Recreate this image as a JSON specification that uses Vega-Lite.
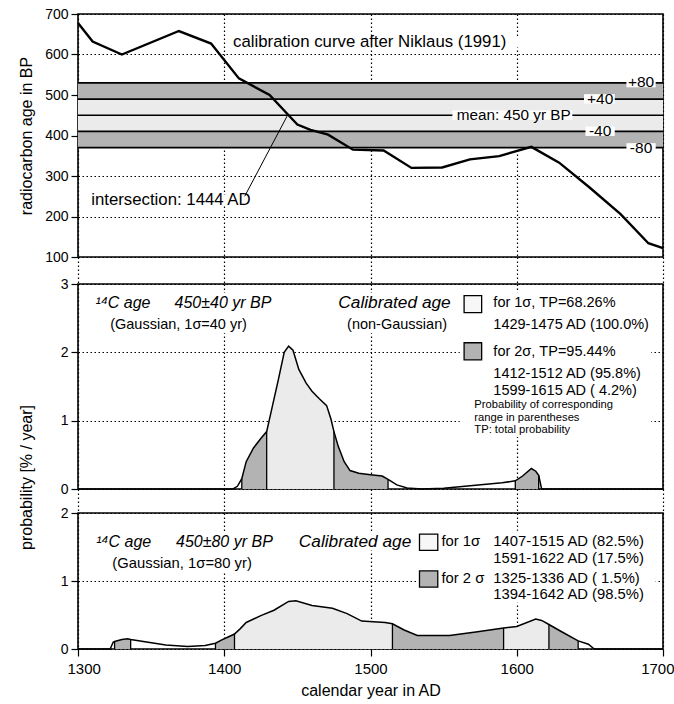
{
  "$schema": "https://vega.github.io/schema/vega-lite/v6.json",
  "background": "white",
  "padding": {"left": 17, "top": 6, "right": 0, "bottom": 5},
  "bounds": "flush",
  "spacing": 27,
  "config": {
    "font": "Liberation Sans",
    "view": {"stroke": "black", "strokeWidth": 1.6},
    "axis": {
      "labelFont": "Liberation Sans", "labelFontSize": 14, "labelColor": "black",
      "titleFont": "Liberation Sans", "titleFontSize": 16, "titleFontWeight": "normal", "titleColor": "black",
      "tickColor": "black", "tickWidth": 1.2, "tickSize": 7, "labelPadding": 3, "domain": false,
      "labelFlush": false, "labelOverlap": false,
      "gridColor": "black", "gridDash": [1.5, 2.5], "gridOpacity": 1, "gridWidth": 1.2
    },
    "text": {"font": "Liberation Sans", "fontSize": 15, "baseline": "middle", "align": "left", "color": "black"}
  },
  "datasets": {
    "bands": [
      {"lo": 490, "hi": 530, "kind": "2s"},
      {"lo": 410, "hi": 490, "kind": "1s"},
      {"lo": 370, "hi": 410, "kind": "2s"}
    ],
    "levels": [{"y": 370}, {"y": 410}, {"y": 450}, {"y": 490}, {"y": 530}],
    "calib": [
      {"x": 1300, "y": 678}, {"x": 1310, "y": 632}, {"x": 1330, "y": 600}, {"x": 1369, "y": 658},
      {"x": 1391, "y": 627}, {"x": 1410, "y": 541}, {"x": 1431, "y": 500}, {"x": 1444, "y": 450},
      {"x": 1450, "y": 427}, {"x": 1459, "y": 414}, {"x": 1471, "y": 402}, {"x": 1488, "y": 365},
      {"x": 1509, "y": 363}, {"x": 1528, "y": 320}, {"x": 1549, "y": 321}, {"x": 1568, "y": 341},
      {"x": 1588, "y": 349}, {"x": 1610, "y": 372}, {"x": 1629, "y": 333}, {"x": 1650, "y": 271},
      {"x": 1671, "y": 206}, {"x": 1690, "y": 134}, {"x": 1700, "y": 122}
    ],
    "top_boxes": [
      {"x": 1404, "x2": 1617, "y": 617, "y2": 645},
      {"x": 1306, "x2": 1415, "y": 226, "y2": 254},
      {"x": 1675, "x2": 1695, "y": 519, "y2": 542},
      {"x": 1646, "x2": 1667, "y": 479, "y2": 502},
      {"x": 1556, "x2": 1638, "y": 439, "y2": 462},
      {"x": 1647, "x2": 1667, "y": 399, "y2": 422},
      {"x": 1675, "x2": 1695, "y": 358, "y2": 381}
    ],
    "leader": [{"x": 1414, "y": 250, "x2": 1443, "y2": 448}],
    "top_center_labels": [
      {"x": 1685, "y": 531, "label": "+80"},
      {"x": 1657, "y": 491, "label": "+40"},
      {"x": 1657, "y": 411, "label": "-40"},
      {"x": 1685, "y": 370, "label": "-80"}
    ],
    "top_big_labels": [
      {"x": 1406, "y": 631, "label": "calibration curve after Niklaus (1991)"},
      {"x": 1309, "y": 240, "label": "intersection: 1444 AD"}
    ],
    "top_mean_label": [
      {"x": 1559, "y": 451, "label": "mean: 450 yr BP"}
    ],
    "mid": [
      {"x": 1300, "y": 0}, {"x": 1400, "y": 0}, {"x": 1406, "y": 0}, {"x": 1409, "y": 0.04},
      {"x": 1412, "y": 0.15}, {"x": 1415, "y": 0.4}, {"x": 1420, "y": 0.6}, {"x": 1425, "y": 0.74},
      {"x": 1429, "y": 0.84}, {"x": 1433, "y": 1.22}, {"x": 1437, "y": 1.6}, {"x": 1441, "y": 2.0},
      {"x": 1444, "y": 2.09}, {"x": 1447, "y": 2.03}, {"x": 1451, "y": 1.75}, {"x": 1456, "y": 1.55},
      {"x": 1460, "y": 1.43}, {"x": 1465, "y": 1.32}, {"x": 1470, "y": 1.22}, {"x": 1473, "y": 1.02},
      {"x": 1475, "y": 0.84}, {"x": 1478, "y": 0.62}, {"x": 1482, "y": 0.4}, {"x": 1486, "y": 0.27},
      {"x": 1492, "y": 0.23}, {"x": 1500, "y": 0.21}, {"x": 1508, "y": 0.19}, {"x": 1512, "y": 0.14},
      {"x": 1518, "y": 0.06}, {"x": 1525, "y": 0.015}, {"x": 1535, "y": 0}, {"x": 1550, "y": 0.01},
      {"x": 1570, "y": 0.05}, {"x": 1590, "y": 0.09}, {"x": 1599, "y": 0.12}, {"x": 1604, "y": 0.19},
      {"x": 1610, "y": 0.3}, {"x": 1613, "y": 0.26}, {"x": 1615, "y": 0.2}, {"x": 1617, "y": 0},
      {"x": 1700, "y": 0}
    ],
    "mid_bounds": [
      {"x": 1412, "y": 0.15}, {"x": 1429, "y": 0.84}, {"x": 1475, "y": 0.84},
      {"x": 1512, "y": 0.14}, {"x": 1599, "y": 0.12}, {"x": 1615, "y": 0.2}
    ],
    "mid_boxes": [
      {"x": 1309, "x2": 1436, "y": 2.28, "y2": 2.87},
      {"x": 1474, "x2": 1560, "y": 2.28, "y2": 2.87},
      {"x": 1561, "x2": 1692, "y": 0.76, "y2": 2.88}
    ],
    "mid_italic": [
      {"x": 1312, "y": 2.72, "label": "¹⁴C age"},
      {"x": 1366, "y": 2.72, "label": "450±40 yr BP"}
    ],
    "mid_cal": [
      {"x": 1478, "y": 2.72, "label": "Calibrated age"}
    ],
    "mid_normal": [
      {"x": 1322, "y": 2.4, "label": "(Gaussian, 1σ=40 yr)"},
      {"x": 1484, "y": 2.4, "label": "(non-Gaussian)"},
      {"x": 1584, "y": 2.72, "label": "for 1σ, TP=68.26%"},
      {"x": 1584, "y": 2.4, "label": "1429-1475 AD (100.0%)"},
      {"x": 1584, "y": 2.01, "label": "for 2σ, TP=95.44%"},
      {"x": 1584, "y": 1.69, "label": "1412-1512 AD (95.8%)"},
      {"x": 1584, "y": 1.43, "label": "1599-1615 AD ( 4.2%)"}
    ],
    "mid_small": [
      {"x": 1571, "y": 1.23, "label": "Probability of corresponding"},
      {"x": 1571, "y": 1.045, "label": "range in parentheses"},
      {"x": 1571, "y": 0.86, "label": "TP: total probability"}
    ],
    "mid_key": [
      {"x": 1564, "x2": 1576, "y": 2.58, "y2": 2.83, "kind": "1s"},
      {"x": 1564, "x2": 1576, "y": 1.89, "y2": 2.14, "kind": "2s"}
    ],
    "bot": [
      {"x": 1300, "y": 0}, {"x": 1322, "y": 0}, {"x": 1324, "y": 0.1}, {"x": 1325, "y": 0.11},
      {"x": 1330, "y": 0.14}, {"x": 1334, "y": 0.15}, {"x": 1336, "y": 0.14}, {"x": 1348, "y": 0.1},
      {"x": 1360, "y": 0.06}, {"x": 1375, "y": 0.035}, {"x": 1387, "y": 0.05}, {"x": 1394, "y": 0.085},
      {"x": 1398, "y": 0.13}, {"x": 1403, "y": 0.18}, {"x": 1407, "y": 0.22}, {"x": 1411, "y": 0.3},
      {"x": 1415, "y": 0.39}, {"x": 1425, "y": 0.49}, {"x": 1434, "y": 0.57}, {"x": 1444, "y": 0.7},
      {"x": 1449, "y": 0.71}, {"x": 1460, "y": 0.64}, {"x": 1474, "y": 0.6}, {"x": 1484, "y": 0.52},
      {"x": 1494, "y": 0.41}, {"x": 1502, "y": 0.4}, {"x": 1510, "y": 0.39}, {"x": 1515, "y": 0.37},
      {"x": 1523, "y": 0.28}, {"x": 1532, "y": 0.2}, {"x": 1554, "y": 0.2}, {"x": 1572, "y": 0.25},
      {"x": 1591, "y": 0.31}, {"x": 1600, "y": 0.33}, {"x": 1613, "y": 0.44}, {"x": 1617, "y": 0.42},
      {"x": 1622, "y": 0.36}, {"x": 1631, "y": 0.25}, {"x": 1642, "y": 0.12}, {"x": 1649, "y": 0.07},
      {"x": 1653, "y": 0}, {"x": 1700, "y": 0}
    ],
    "bot_bounds": [
      {"x": 1325, "y": 0.11}, {"x": 1336, "y": 0.14}, {"x": 1394, "y": 0.085}, {"x": 1407, "y": 0.22},
      {"x": 1515, "y": 0.37}, {"x": 1591, "y": 0.31}, {"x": 1622, "y": 0.36}, {"x": 1642, "y": 0.12}
    ],
    "bot_boxes": [
      {"x": 1310, "x2": 1437, "y": 1.12, "y2": 1.72},
      {"x": 1449, "x2": 1531, "y": 1.45, "y2": 1.72},
      {"x": 1532, "x2": 1695, "y": 0.68, "y2": 1.74}
    ],
    "bot_italic": [
      {"x": 1312.5, "y": 1.57, "label": "¹⁴C age"},
      {"x": 1367, "y": 1.57, "label": "450±80 yr BP"}
    ],
    "bot_cal": [
      {"x": 1451, "y": 1.57, "label": "Calibrated age"}
    ],
    "bot_normal": [
      {"x": 1323.5, "y": 1.25, "label": "(Gaussian, 1σ=80 yr)"},
      {"x": 1548.5, "y": 1.57, "label": "for 1σ"},
      {"x": 1584, "y": 1.57, "label": "1407-1515 AD (82.5%)"},
      {"x": 1584, "y": 1.33, "label": "1591-1622 AD (17.5%)"},
      {"x": 1548.5, "y": 1.03, "label": "for 2 σ"},
      {"x": 1584, "y": 1.03, "label": "1325-1336 AD ( 1.5%)"},
      {"x": 1584, "y": 0.79, "label": "1394-1642 AD (98.5%)"}
    ],
    "bot_key": [
      {"x": 1533.5, "x2": 1546, "y": 1.45, "y2": 1.69, "kind": "1s"},
      {"x": 1533.5, "x2": 1546, "y": 0.91, "y2": 1.15, "kind": "2s"}
    ]
  },
  "vconcat": [
    {
      "width": 585,
      "height": 243,
      "layer": [
        {
          "data": {"name": "bands"},
          "transform": [{"filter": "datum.kind === '2s'"}],
          "mark": {"type": "rect", "fill": "#b3b3b3"},
          "encoding": {
            "x": {"datum": 1300, "type": "quantitative",
                  "scale": {"domain": [1300, 1700], "nice": false, "zero": false},
                  "axis": {"title": null, "labels": false, "grid": true, "values": [1300, 1400, 1500, 1600, 1700],
                           "tickSize": 27, "tickDash": [1.5, 2.5], "tickWidth": 1.2}},
            "x2": {"datum": 1700},
            "y": {"field": "lo", "type": "quantitative",
                  "scale": {"domain": [100, 700], "nice": false, "zero": false},
                  "axis": {"title": "radiocarbon age in BP", "values": [100, 200, 300, 400, 500, 600, 700],
                           "format": "d", "grid": true, "titleX": -44}},
            "y2": {"field": "hi"}
          }
        },
        {
          "data": {"name": "bands"},
          "transform": [{"filter": "datum.kind === '1s'"}],
          "mark": {"type": "rect", "fill": "#ebebeb"},
          "encoding": {
            "x": {"datum": 1300, "type": "quantitative"},
            "x2": {"datum": 1700},
            "y": {"field": "lo", "type": "quantitative"},
            "y2": {"field": "hi"}
          }
        },
        {
          "data": {"name": "levels"},
          "mark": {"type": "rule", "color": "black", "strokeWidth": 1.7},
          "encoding": {"y": {"field": "y", "type": "quantitative"}}
        },
        {
          "data": {"name": "top_boxes"},
          "mark": {"type": "rect", "fill": "white"},
          "encoding": {
            "x": {"field": "x", "type": "quantitative"}, "x2": {"field": "x2"},
            "y": {"field": "y", "type": "quantitative"}, "y2": {"field": "y2"}
          }
        },
        {
          "data": {"name": "calib"},
          "mark": {"type": "line", "color": "black", "strokeWidth": 2.4},
          "encoding": {
            "x": {"field": "x", "type": "quantitative"},
            "y": {"field": "y", "type": "quantitative"}
          }
        },
        {
          "data": {"name": "leader"},
          "mark": {"type": "rule", "color": "black", "strokeWidth": 1},
          "encoding": {
            "x": {"field": "x", "type": "quantitative"}, "x2": {"field": "x2"},
            "y": {"field": "y", "type": "quantitative"}, "y2": {"field": "y2"}
          }
        },
        {
          "data": {"name": "top_center_labels"},
          "mark": {"type": "text", "align": "center", "fontSize": 15.5},
          "encoding": {
            "x": {"field": "x", "type": "quantitative"},
            "y": {"field": "y", "type": "quantitative"},
            "text": {"field": "label"}
          }
        },
        {
          "data": {"name": "top_big_labels"},
          "mark": {"type": "text", "align": "left", "fontSize": 16.8},
          "encoding": {
            "x": {"field": "x", "type": "quantitative"},
            "y": {"field": "y", "type": "quantitative"},
            "text": {"field": "label"}
          }
        },
        {
          "data": {"name": "top_mean_label"},
          "mark": {"type": "text", "align": "left", "fontSize": 15.3},
          "encoding": {
            "x": {"field": "x", "type": "quantitative"},
            "y": {"field": "y", "type": "quantitative"},
            "text": {"field": "label"}
          }
        }
      ]
    },
    {
      "spacing": 24,
      "bounds": "flush",
      "vconcat": [
        {
          "width": 585,
          "height": 205,
          "layer": [
            {
              "data": {"name": "mid_boxes"},
              "mark": {"type": "rect", "fill": "white"},
              "encoding": {
                "x": {"field": "x", "type": "quantitative",
                      "scale": {"domain": [1300, 1700], "nice": false, "zero": false},
                      "axis": {"title": null, "labels": false, "grid": true, "values": [1300, 1400, 1500, 1600, 1700],
                               "tickSize": 24, "tickDash": [1.5, 2.5], "tickWidth": 1.2}},
                "x2": {"field": "x2"},
                "y": {"field": "y", "type": "quantitative",
                      "scale": {"domain": [0, 3], "nice": false, "zero": false},
                      "axis": {"title": "probability [% / year]", "values": [0, 1, 2, 3], "format": "d", "grid": true,
                               "titleX": -44, "titleY": 193, "titleAlign": "center"}},
                "y2": {"field": "y2"}
              }
            },
            {
              "data": {"name": "mid"},
              "transform": [{"filter": "datum.x >= 1412 && datum.x <= 1429"}],
              "mark": {"type": "area", "fill": "#b3b3b3"},
              "encoding": {"x": {"field": "x", "type": "quantitative"}, "y": {"field": "y", "type": "quantitative"}, "y2": {"datum": 0}}
            },
            {
              "data": {"name": "mid"},
              "transform": [{"filter": "datum.x >= 1429 && datum.x <= 1475"}],
              "mark": {"type": "area", "fill": "#ebebeb"},
              "encoding": {"x": {"field": "x", "type": "quantitative"}, "y": {"field": "y", "type": "quantitative"}, "y2": {"datum": 0}}
            },
            {
              "data": {"name": "mid"},
              "transform": [{"filter": "datum.x >= 1475 && datum.x <= 1512"}],
              "mark": {"type": "area", "fill": "#b3b3b3"},
              "encoding": {"x": {"field": "x", "type": "quantitative"}, "y": {"field": "y", "type": "quantitative"}, "y2": {"datum": 0}}
            },
            {
              "data": {"name": "mid"},
              "transform": [{"filter": "datum.x >= 1599 && datum.x <= 1615"}],
              "mark": {"type": "area", "fill": "#b3b3b3"},
              "encoding": {"x": {"field": "x", "type": "quantitative"}, "y": {"field": "y", "type": "quantitative"}, "y2": {"datum": 0}}
            },
            {
              "data": {"name": "mid"},
              "mark": {"type": "line", "color": "black", "strokeWidth": 1.5},
              "encoding": {"x": {"field": "x", "type": "quantitative"}, "y": {"field": "y", "type": "quantitative"}}
            },
            {
              "data": {"name": "mid_bounds"},
              "mark": {"type": "rule", "color": "black", "strokeWidth": 1.3},
              "encoding": {"x": {"field": "x", "type": "quantitative"}, "y": {"field": "y", "type": "quantitative"}, "y2": {"datum": 0}}
            },
            {
              "data": {"name": "mid_key"},
              "transform": [{"filter": "datum.kind === '1s'"}],
              "mark": {"type": "rect", "fill": "#f7f7f7", "stroke": "black", "strokeWidth": 1.3},
              "encoding": {"x": {"field": "x", "type": "quantitative"}, "x2": {"field": "x2"}, "y": {"field": "y", "type": "quantitative"}, "y2": {"field": "y2"}}
            },
            {
              "data": {"name": "mid_key"},
              "transform": [{"filter": "datum.kind === '2s'"}],
              "mark": {"type": "rect", "fill": "#b3b3b3", "stroke": "black", "strokeWidth": 1.3},
              "encoding": {"x": {"field": "x", "type": "quantitative"}, "x2": {"field": "x2"}, "y": {"field": "y", "type": "quantitative"}, "y2": {"field": "y2"}}
            },
            {
              "data": {"name": "mid_italic"},
              "mark": {"type": "text", "fontSize": 16, "fontStyle": "italic"},
              "encoding": {"x": {"field": "x", "type": "quantitative"}, "y": {"field": "y", "type": "quantitative"}, "text": {"field": "label"}}
            },
            {
              "data": {"name": "mid_cal"},
              "mark": {"type": "text", "fontSize": 17.3, "fontStyle": "italic"},
              "encoding": {"x": {"field": "x", "type": "quantitative"}, "y": {"field": "y", "type": "quantitative"}, "text": {"field": "label"}}
            },
            {
              "data": {"name": "mid_normal"},
              "mark": {"type": "text", "fontSize": 14.5},
              "encoding": {"x": {"field": "x", "type": "quantitative"}, "y": {"field": "y", "type": "quantitative"}, "text": {"field": "label"}}
            },
            {
              "data": {"name": "mid_small"},
              "mark": {"type": "text", "fontSize": 11.2},
              "encoding": {"x": {"field": "x", "type": "quantitative"}, "y": {"field": "y", "type": "quantitative"}, "text": {"field": "label"}}
            }
          ]
        },
        {
          "width": 585,
          "height": 136,
          "layer": [
            {
              "data": {"name": "bot"},
              "mark": {"type": "line", "color": "black", "strokeWidth": 1.5, "opacity": 0},
              "encoding": {
                "x": {"field": "x", "type": "quantitative",
                      "scale": {"domain": [1300, 1700], "nice": false, "zero": false},
                      "axis": {"title": "calendar year in AD", "values": [1300, 1400, 1500, 1600, 1700], "format": ".0f", "grid": true,
                               "tickSize": 7, "labelPadding": 5, "labelFontSize": 15, "titlePadding": 6,
                               "labelFlush": true, "labelFlushOffset": 11}},
                "y": {"field": "y", "type": "quantitative",
                      "scale": {"domain": [0, 2], "nice": false, "zero": false},
                      "axis": {"title": null, "values": [0, 1, 2], "format": ".0f", "grid": true, "labelOverlap": false}}
              }
            },
            {
              "data": {"name": "bot_boxes"},
              "mark": {"type": "rect", "fill": "white"},
              "encoding": {
                "x": {"field": "x", "type": "quantitative"},
                "x2": {"field": "x2"},
                "y": {"field": "y", "type": "quantitative"},
                "y2": {"field": "y2"}
              }
            },
            {
              "data": {"name": "bot"},
              "transform": [{"filter": "datum.x >= 1325 && datum.x <= 1336"}],
              "mark": {"type": "area", "fill": "#b3b3b3"},
              "encoding": {"x": {"field": "x", "type": "quantitative"}, "y": {"field": "y", "type": "quantitative"}, "y2": {"datum": 0}}
            },
            {
              "data": {"name": "bot"},
              "transform": [{"filter": "datum.x >= 1394 && datum.x <= 1407"}],
              "mark": {"type": "area", "fill": "#b3b3b3"},
              "encoding": {"x": {"field": "x", "type": "quantitative"}, "y": {"field": "y", "type": "quantitative"}, "y2": {"datum": 0}}
            },
            {
              "data": {"name": "bot"},
              "transform": [{"filter": "datum.x >= 1407 && datum.x <= 1515"}],
              "mark": {"type": "area", "fill": "#ebebeb"},
              "encoding": {"x": {"field": "x", "type": "quantitative"}, "y": {"field": "y", "type": "quantitative"}, "y2": {"datum": 0}}
            },
            {
              "data": {"name": "bot"},
              "transform": [{"filter": "datum.x >= 1515 && datum.x <= 1591"}],
              "mark": {"type": "area", "fill": "#b3b3b3"},
              "encoding": {"x": {"field": "x", "type": "quantitative"}, "y": {"field": "y", "type": "quantitative"}, "y2": {"datum": 0}}
            },
            {
              "data": {"name": "bot"},
              "transform": [{"filter": "datum.x >= 1591 && datum.x <= 1622"}],
              "mark": {"type": "area", "fill": "#ebebeb"},
              "encoding": {"x": {"field": "x", "type": "quantitative"}, "y": {"field": "y", "type": "quantitative"}, "y2": {"datum": 0}}
            },
            {
              "data": {"name": "bot"},
              "transform": [{"filter": "datum.x >= 1622 && datum.x <= 1642"}],
              "mark": {"type": "area", "fill": "#b3b3b3"},
              "encoding": {"x": {"field": "x", "type": "quantitative"}, "y": {"field": "y", "type": "quantitative"}, "y2": {"datum": 0}}
            },
            {
              "data": {"name": "bot"},
              "mark": {"type": "line", "color": "black", "strokeWidth": 1.5},
              "encoding": {"x": {"field": "x", "type": "quantitative"}, "y": {"field": "y", "type": "quantitative"}}
            },
            {
              "data": {"name": "bot_bounds"},
              "mark": {"type": "rule", "color": "black", "strokeWidth": 1.3},
              "encoding": {"x": {"field": "x", "type": "quantitative"}, "y": {"field": "y", "type": "quantitative"}, "y2": {"datum": 0}}
            },
            {
              "data": {"name": "bot_key"},
              "transform": [{"filter": "datum.kind === '1s'"}],
              "mark": {"type": "rect", "fill": "#f7f7f7", "stroke": "black", "strokeWidth": 1.3},
              "encoding": {"x": {"field": "x", "type": "quantitative"}, "x2": {"field": "x2"}, "y": {"field": "y", "type": "quantitative"}, "y2": {"field": "y2"}}
            },
            {
              "data": {"name": "bot_key"},
              "transform": [{"filter": "datum.kind === '2s'"}],
              "mark": {"type": "rect", "fill": "#b3b3b3", "stroke": "black", "strokeWidth": 1.3},
              "encoding": {"x": {"field": "x", "type": "quantitative"}, "x2": {"field": "x2"}, "y": {"field": "y", "type": "quantitative"}, "y2": {"field": "y2"}}
            },
            {
              "data": {"name": "bot_italic"},
              "mark": {"type": "text", "fontSize": 16, "fontStyle": "italic"},
              "encoding": {"x": {"field": "x", "type": "quantitative"}, "y": {"field": "y", "type": "quantitative"}, "text": {"field": "label"}}
            },
            {
              "data": {"name": "bot_cal"},
              "mark": {"type": "text", "fontSize": 17.3, "fontStyle": "italic"},
              "encoding": {"x": {"field": "x", "type": "quantitative"}, "y": {"field": "y", "type": "quantitative"}, "text": {"field": "label"}}
            },
            {
              "data": {"name": "bot_normal"},
              "mark": {"type": "text", "fontSize": 14.8},
              "encoding": {"x": {"field": "x", "type": "quantitative"}, "y": {"field": "y", "type": "quantitative"}, "text": {"field": "label"}}
            }
          ]
        }
      ]
    }
  ]
}
